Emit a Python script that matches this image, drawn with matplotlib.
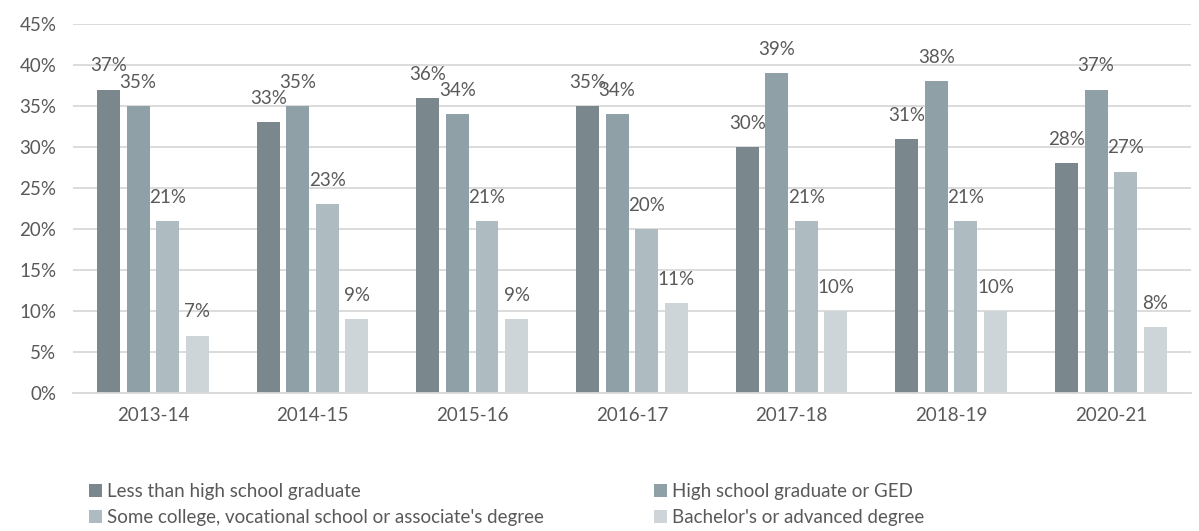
import matplotlib
matplotlib.use("Agg")
import matplotlib.pyplot as plt
from matplotlib.patches import Patch
import numpy as np

years = ["2013-14", "2014-15", "2015-16", "2016-17", "2017-18", "2018-19", "2020-21"]
less_hs = [37, 33, 36, 35, 30, 31, 28]
hs_ged = [35, 35, 34, 34, 39, 38, 37]
some_college = [21, 23, 21, 20, 21, 21, 27]
bachelors = [7, 9, 9, 11, 10, 10, 8]

series_names = ["Less than high school graduate",
                "High school graduate or GED",
                "Some college, vocational school or associate's degree",
                "Bachelor's or advanced degree"]
colors = ["#7A888D", "#8FA0A7", "#AEBCC1", "#CDD5D8"]
TEXT = "#595959"
GRID = "#D9D9D9"

plt.rcParams["font.family"] = ["Lato", "DejaVu Sans"]

fig = plt.figure(figsize=(11.99, 5.31), dpi=100)
ax = fig.add_axes([0.061, 0.26, 0.932, 0.695])

x = np.arange(len(years))
width = 0.144
step = 0.185
offsets = (np.arange(4) - 1.5) * step

for i, vals in enumerate([less_hs, hs_ged, some_college, bachelors]):
    bars = ax.bar(x + offsets[i], vals, width, color=colors[i], zorder=2)
    for b, v in zip(bars, vals):
        ax.annotate(f"{v}%", xy=(b.get_x() + b.get_width() / 2, v),
                    xytext=(0, 17), textcoords="offset points",
                    ha="center", va="center", fontsize=13.5, color=TEXT)

ax.set_xlim(-0.5, len(years) - 0.5)
ax.set_ylim(0, 45)
ax.set_yticks(range(0, 46, 5))
ax.set_yticklabels([f"{t}%" for t in range(0, 46, 5)])
ax.set_xticks(x)
ax.set_xticklabels(years)
ax.tick_params(axis="both", length=0, labelsize=13.5, colors=TEXT)
ax.tick_params(axis="x", pad=10)
ax.tick_params(axis="y", pad=12)
ax.yaxis.grid(True, color=GRID, linewidth=1.3, zorder=0)
ax.set_axisbelow(True)
for s in ["top", "right", "left"]:
    ax.spines[s].set_visible(False)
ax.spines["bottom"].set_color(GRID)
ax.spines["bottom"].set_linewidth(1.3)

handles = [Patch(facecolor=c, edgecolor="none") for c in colors]
order = [0, 2, 1, 3]
fig.legend([handles[i] for i in order], [series_names[i] for i in order],
           loc="upper left", bbox_to_anchor=(0.068, 0.104), ncol=2,
           frameon=False, fontsize=13.5, labelcolor=TEXT,
           handlelength=0.7, handleheight=0.7, handletextpad=0.25,
           columnspacing=5.9, labelspacing=0.45, borderaxespad=0)

fig.savefig("out.png", dpi=100)
